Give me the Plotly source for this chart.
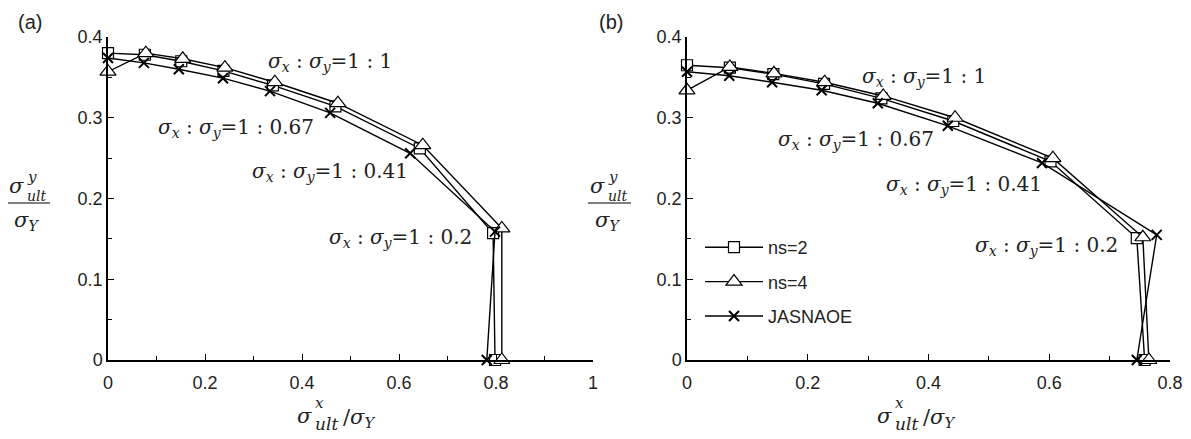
import plotly.graph_objects as go

W, H = 1191, 439
OFF = 8  # page body margin in the browser

# ---------------- data ----------------
# panel (a)
a_ns2_x = [0.000, 0.076, 0.151, 0.238, 0.340, 0.469, 0.643, 0.794, 0.798]
a_ns2_y = [0.380, 0.378, 0.370, 0.358, 0.340, 0.314, 0.262, 0.157, 0.000]
a_ns4_x = [0.000, 0.078, 0.154, 0.241, 0.344, 0.474, 0.649, 0.812, 0.812]
a_ns4_y = [0.357, 0.380, 0.373, 0.362, 0.344, 0.318, 0.266, 0.163, 0.000]
a_jas_x = [0.000, 0.074, 0.146, 0.237, 0.334, 0.458, 0.623, 0.798, 0.781]
a_jas_y = [0.374, 0.368, 0.360, 0.349, 0.333, 0.306, 0.256, 0.159, 0.000]

# panel (b)
b_ns2_x = [0.000, 0.071, 0.143, 0.227, 0.322, 0.441, 0.602, 0.745, 0.758]
b_ns2_y = [0.365, 0.362, 0.354, 0.342, 0.324, 0.296, 0.246, 0.151, 0.000]
b_ns4_x = [0.000, 0.071, 0.144, 0.228, 0.325, 0.444, 0.606, 0.755, 0.765]
b_ns4_y = [0.334, 0.363, 0.355, 0.344, 0.327, 0.300, 0.250, 0.152, 0.000]
b_jas_x = [0.000, 0.070, 0.141, 0.223, 0.316, 0.432, 0.588, 0.778, 0.745]
b_jas_y = [0.357, 0.352, 0.344, 0.334, 0.318, 0.290, 0.244, 0.155, 0.000]

series_names = ["ns=2", "ns=4", "JASNAOE"]
ratio_labels = ["1 : 1", "1 : 0.67", "1 : 0.41", "1 : 0.2"]
# label anchor positions in data coords (panel a, panel b)
a_label_x = [0.458, 0.264, 0.458, 0.604]
a_label_y = [0.369, 0.287, 0.233, 0.151]
b_label_x = [0.392, 0.280, 0.459, 0.596]
b_label_y = [0.350, 0.272, 0.217, 0.141]

# ---------------- style ----------------
MATH = "DejaVu Serif"
SANS = "Liberation Sans"
TXT = "#222222"

def px(xp):
    return (xp - OFF) / W

def py(yp):
    return 1 - (yp - OFF) / H

symbols = [
    dict(symbol="square", size=11, color="white", line=dict(color="black", width=1.2)),
    dict(symbol="triangle-up", size=14, color="white", line=dict(color="black", width=1.2)),
    dict(symbol="x-thin", size=10, color="black", line=dict(color="black", width=2)),
]

fig = go.Figure()

panels = [
    ("x", "y", [(a_ns2_x, a_ns2_y), (a_ns4_x, a_ns4_y), (a_jas_x, a_jas_y)], False),
    ("x2", "y2", [(b_ns2_x, b_ns2_y), (b_ns4_x, b_ns4_y), (b_jas_x, b_jas_y)], True),
]
for xa, ya, data, show in panels:
    for i, (xs, ys) in enumerate(data):
        fig.add_trace(go.Scatter(
            x=xs, y=ys, xaxis=xa, yaxis=ya, mode="lines+markers",
            name=series_names[i], showlegend=show, legendgroup=f"g{i}",
            line=dict(color="black", width=1.4),
            marker=symbols[i], cliponaxis=False,
        ))

axis_common = dict(
    showline=True, linecolor="black", linewidth=1.5, showgrid=False, zeroline=False,
    ticks="inside", ticklen=6, tickwidth=1.2, tickcolor="black",
    tickfont=dict(family=SANS, size=18, color=TXT),
    mirror=False, automargin=False,
)
minor_common = dict(ticks="inside", ticklen=4, tickcolor="black", tickwidth=1)

fig.update_layout(
    template="none",
    width=W, height=H,
    margin=dict(l=0, r=0, t=0, b=0, pad=0, autoexpand=False),
    paper_bgcolor="white", plot_bgcolor="white",
    xaxis=dict(domain=[px(108), px(593)], range=[0, 1], dtick=0.2, anchor="y",
               ticklabelstandoff=6,
               minor=dict(dtick=0.1, **minor_common), **axis_common),
    yaxis=dict(domain=[py(360), py(37)], range=[0, 0.4], dtick=0.1, anchor="x",
               minor=dict(dtick=0.05, **minor_common), **axis_common),
    xaxis2=dict(domain=[px(687), px(1170)], range=[0, 0.8], dtick=0.2, anchor="y2",
                ticklabelstandoff=6,
                minor=dict(dtick=0.1, **minor_common), **axis_common),
    yaxis2=dict(domain=[py(360), py(37)], range=[0, 0.4], dtick=0.1, anchor="x2",
                minor=dict(dtick=0.05, **minor_common), **axis_common),
    legend=dict(x=px(700), y=py(229), xanchor="left", yanchor="top",
                font=dict(family=SANS, size=18, color=TXT),
                bgcolor="rgba(0,0,0,0)", tracegroupgap=8, traceorder="grouped",
                itemwidth=58),
    showlegend=True,
)

anns = []
# ratio labels
for (xr, yr, lx, ly) in [("x", "y", a_label_x, a_label_y), ("x2", "y2", b_label_x, b_label_y)]:
    for t, xv, yv in zip(ratio_labels, lx, ly):
        anns.append(dict(
            x=xv, y=yv, xref=xr, yref=yr, showarrow=False,
            text=f"<i>σ<sub>x</sub></i> : <i>σ<sub>y</sub></i>={t}",
            font=dict(family=MATH, size=20, color=TXT),
            xanchor="center", yanchor="middle",
        ))

def paper_text(x, y, text, size, xanchor="center", yanchor="middle", family=MATH):
    anns.append(dict(x=px(x), y=py(y), xref="paper", yref="paper", showarrow=False,
                     text=text, font=dict(family=family, size=size, color=TXT),
                     xanchor=xanchor, yanchor=yanchor, borderpad=0))

# panel letters
paper_text(30, 22, "(a)", 20, family=SANS)
paper_text(611, 22, "(b)", 20, family=SANS)

shapes = []
for off in [0, 581]:
    # y-axis fraction label: sigma with stacked super/subscript over sigma_Y
    paper_text(25 + off, 186, "<i>σ</i>", 21, xanchor="right")
    paper_text(26 + off, 187, "<i>y</i>", 15, xanchor="left", yanchor="bottom")
    paper_text(26 + off, 187, "<i>ult</i>", 14, xanchor="left", yanchor="top")
    shapes.append(dict(type="line", xref="paper", yref="paper",
                       x0=px(7 + off), x1=px(50 + off), y0=py(203), y1=py(203),
                       line=dict(color="black", width=1.2)))
    paper_text(26 + off, 221, "<i>σ<sub>Y</sub></i>", 21, xanchor="center")

for off in [0, 580]:
    # x-axis label
    paper_text(313 + off, 416, "<i>σ</i>", 21, xanchor="right")
    paper_text(314 + off, 413, "<i>x</i>", 15, xanchor="left", yanchor="bottom")
    paper_text(314 + off, 413, "<i>ult</i>", 17, xanchor="left", yanchor="top")
    paper_text(342 + off, 418, "/<i>σ<sub>Y</sub></i>", 21, xanchor="left")

fig.update_layout(annotations=anns, shapes=shapes)

fig.write_html("out.html")
